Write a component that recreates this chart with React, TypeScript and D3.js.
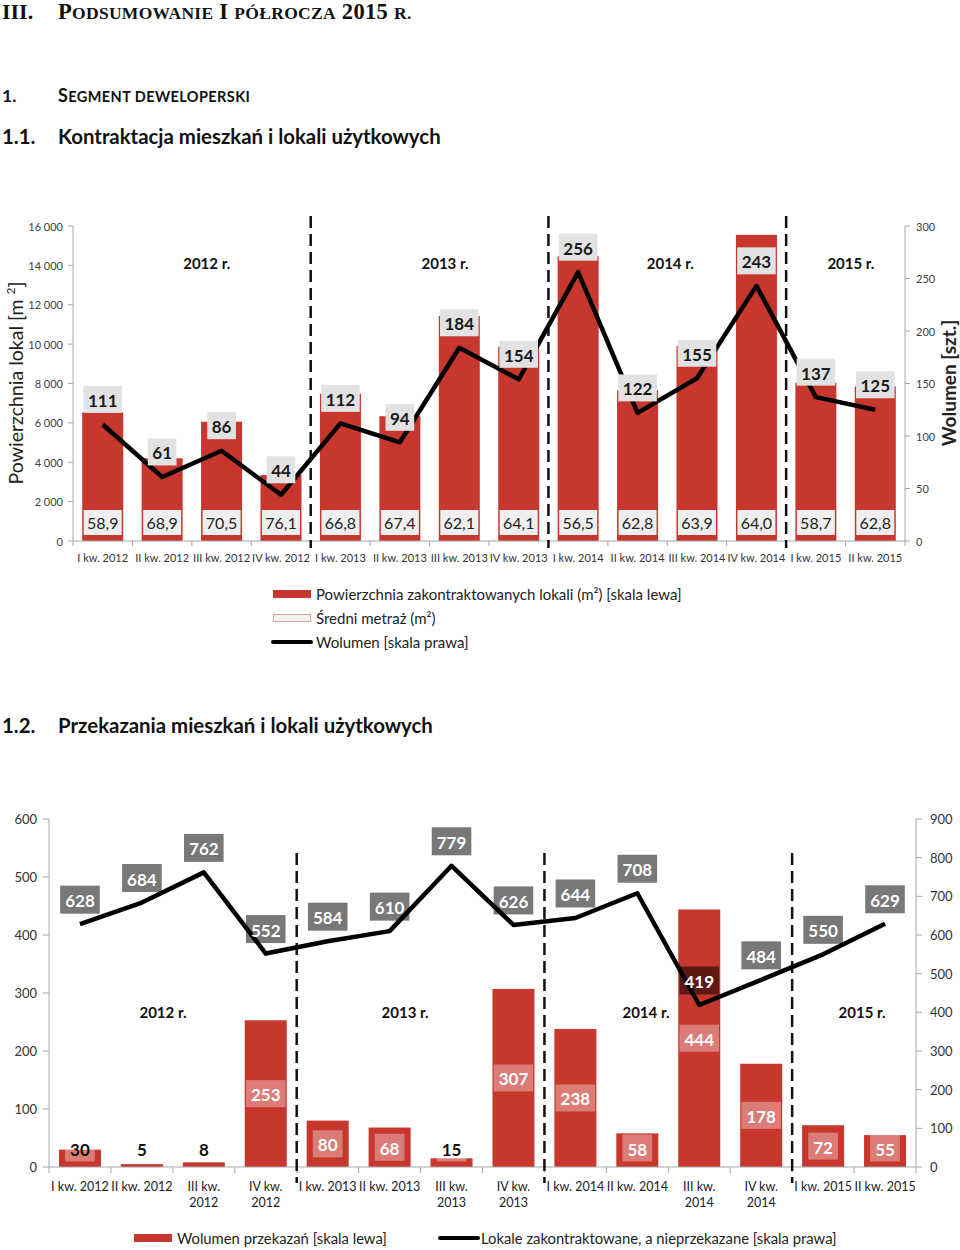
import React from 'react';
import * as d3 from 'd3';

// ---------- DATA ----------
const quarters1 = ["I kw. 2012", "II kw. 2012", "III kw. 2012", "IV kw. 2012", "I kw. 2013", "II kw. 2013", "III kw. 2013", "IV kw. 2013", "I kw. 2014", "II kw. 2014", "III kw. 2014", "IV kw. 2014", "I kw. 2015", "II kw. 2015"];
const area1 = [6540, 4200, 6060, 3350, 7480, 6340, 11430, 9870, 14460, 7660, 9900, 15550, 8040, 7850];
const avgArea1 = [58.9, 68.9, 70.5, 76.1, 66.8, 67.4, 62.1, 64.1, 56.5, 62.8, 63.9, 64.0, 58.7, 62.8];
const volume1 = [111, 61, 86, 44, 112, 94, 184, 154, 256, 122, 155, 243, 137, 125];
const leftTicks1 = [0, 2000, 4000, 6000, 8000, 10000, 12000, 14000, 16000];
const rightTicks1 = [0, 50, 100, 150, 200, 250, 300];
const years = ["2012 r.", "2013 r.", "2014 r.", "2015 r."];

const quarters2 = ["I kw. 2012", "II kw. 2012", "III kw.\n2012", "IV kw.\n2012", "I kw. 2013", "II kw. 2013", "III kw.\n2013", "IV kw.\n2013", "I kw. 2014", "II kw. 2014", "III kw.\n2014", "IV kw.\n2014", "I kw. 2015", "II kw. 2015"];
const handovers2 = [30, 5, 8, 253, 80, 68, 15, 307, 238, 58, 444, 178, 72, 55];
const unsold2 = [628, 684, 762, 552, 584, 610, 779, 626, 644, 708, 419, 484, 550, 629];
const leftTicks2 = [0, 100, 200, 300, 400, 500, 600];
const rightTicks2 = [0, 100, 200, 300, 400, 500, 600, 700, 800, 900];

// ---------- STYLE ----------
const FONT = "Lato, 'Open Sans', sans-serif";
const RED = "#c8372d";
const AXIS = "#a6a6a6";
const locale = d3.formatLocale({ decimal: ",", thousands: " ", grouping: [3], currency: ["", ""] });
const fmtThousands = locale.format(",");
const fmtDec = locale.format(".1f");

let ctx: CanvasRenderingContext2D | null = null;
function textW(s: string, font: string) {
  if (!ctx) ctx = document.createElement('canvas').getContext('2d');
  ctx!.font = font;
  return ctx!.measureText(s).width;
}

// layout: year labels as fractional band positions
const yearPos1 = [2.25, 6.26, 10.05, 13.09];
const yearPos2 = [1.84, 5.75, 9.64, 13.13];
const separators = [4, 8, 12];

function Chart1() {
  const L = 73, R = 905, T = 226, B = 541;
  const x = d3.scaleBand<string>().domain(quarters1).range([L, R]);
  const bw = x.bandwidth();
  const barW = 41;
  const yL = d3.scaleLinear().domain([0, 16000]).range([B, T]);
  const yR = d3.scaleLinear().domain([0, 300]).range([B, T]);
  const cx = (i: number) => (x(quarters1[i]) as number) + bw / 2;
  const line = d3.line<number>().x((_, i) => cx(i)).y(d => yR(d));
  const volFont = `bold 17px ${FONT}`;
  return (
    <g>
      {area1.map((v, i) => (
        <rect key={'b' + i} x={cx(i) - barW / 2} y={yL(v)} width={barW} height={B - yL(v)} fill={RED} />
      ))}
      {avgArea1.map((v, i) => (
        <g key={'a' + i}>
          <rect x={cx(i) - barW / 2 + 1.5} y={B - 31} width={barW - 3} height={25} fill="#efefef" />
          <text x={cx(i)} y={B - 18.5} textAnchor="middle" dominantBaseline="central" fontFamily={FONT} fontSize={16} fill="#222">{fmtDec(v)}</text>
        </g>
      ))}
      <line x1={L} x2={L} y1={T} y2={B} stroke={AXIS} />
      <line x1={R} x2={R} y1={T} y2={B} stroke={AXIS} />
      <line x1={L} x2={R} y1={B} y2={B} stroke={AXIS} />
      {leftTicks1.map(t => (
        <g key={'lt' + t}>
          <line x1={L - 5} x2={L} y1={yL(t)} y2={yL(t)} stroke={AXIS} />
          <text x={L - 10} y={yL(t)} textAnchor="end" dominantBaseline="central" fontFamily={FONT} fontSize={11} fill="#404040">{fmtThousands(t)}</text>
        </g>
      ))}
      {rightTicks1.map(t => (
        <g key={'rt' + t}>
          <line x1={R} x2={R + 5} y1={yR(t)} y2={yR(t)} stroke={AXIS} />
          <text x={R + 11} y={yR(t)} dominantBaseline="central" fontFamily={FONT} fontSize={11} fill="#404040">{t}</text>
        </g>
      ))}
      {quarters1.map((q, i) => (
        <g key={'xt' + i}>
          <line x1={(x(q) as number)} x2={(x(q) as number)} y1={B} y2={B + 5} stroke={AXIS} />
          <text x={cx(i)} y={B + 16} textAnchor="middle" dominantBaseline="central" fontFamily={FONT} fontSize={11} fill="#333">{q}</text>
        </g>
      ))}
      <line x1={R} x2={R} y1={B} y2={B + 5} stroke={AXIS} />
      {separators.map(s => (
        <line key={'s' + s} x1={x(quarters1[s]) as number} x2={x(quarters1[s]) as number} y1={216} y2={548} stroke="#111" strokeWidth={2.5} strokeDasharray="12 6" />
      ))}
      {years.map((y, i) => (
        <text key={'y' + i} x={L + yearPos1[i] * bw} y={263} textAnchor="middle" dominantBaseline="central" fontFamily={FONT} fontWeight="bold" fontSize={15} fill="#111">{y}</text>
      ))}
      <path d={line(volume1) as string} fill="none" stroke="#000" strokeWidth={4.5} strokeLinejoin="round" />
      {volume1.map((v, i) => {
        const w = textW(String(v), volFont) + 9;
        const cy = yR(v) - 25;
        return (
          <g key={'v' + i}>
            <rect x={cx(i) - w / 2} y={cy - 13.5} width={w} height={27} fill="#e2e2e2" />
            <text x={cx(i)} y={cy + 1} textAnchor="middle" dominantBaseline="central" fontFamily={FONT} fontWeight="bold" fontSize={17} fill="#1a1a1a">{v}</text>
          </g>
        );
      })}
      <text transform="translate(23,383) rotate(-90)" textAnchor="middle" fontFamily={FONT} fontSize={19.5} fill="#222">
        Powierzchnia lokal [m <tspan fontSize={12} dy={-8}>2</tspan><tspan dy={8}>]</tspan>
      </text>
      <text transform="translate(956,383) rotate(-90)" textAnchor="middle" fontFamily={FONT} fontWeight="bold" fontSize={19} fill="#222">Wolumen  [szt.]</text>
      <rect x={273} y={590} width={38} height={8} fill={RED} />
      <text x={316} y={594} dominantBaseline="central" fontFamily={FONT} fontSize={15} fill="#222">Powierzchnia zakontraktowanych lokali (m²) [skala lewa]</text>
      <rect x={273.5} y={614.5} width={37} height={7} fill="#f2f2f2" stroke="#d9a0a0" />
      <text x={316} y={618} dominantBaseline="central" fontFamily={FONT} fontSize={15} fill="#222">Średni metraż (m²)</text>
      <line x1={273} x2={311} y1={642} y2={642} stroke="#000" strokeWidth={4} strokeLinecap="round" />
      <text x={316} y={642} dominantBaseline="central" fontFamily={FONT} fontSize={15} fill="#222">Wolumen [skala prawa]</text>
    </g>
  );
}

function Chart2() {
  const L = 49, R = 916, T = 819, B = 1167;
  const x = d3.scaleBand<string>().domain(quarters2).range([L, R]);
  const bw = x.bandwidth();
  const barW = 42;
  const yL = d3.scaleLinear().domain([0, 600]).range([B, T]);
  const yR = d3.scaleLinear().domain([0, 900]).range([B, T]);
  const cx = (i: number) => (x(quarters2[i]) as number) + bw / 2;
  const line = d3.line<number>().x((_, i) => cx(i)).y(d => yR(d));
  const lblFont = `bold 17px ${FONT}`;
  return (
    <g>
      {handovers2.map((v, i) => (
        <rect key={'b' + i} x={cx(i) - barW / 2} y={yL(v)} width={barW} height={B - yL(v)} fill={RED} />
      ))}
      <line x1={L} x2={L} y1={T} y2={B} stroke={AXIS} />
      <line x1={R} x2={R} y1={T} y2={B} stroke={AXIS} />
      <line x1={L} x2={R} y1={B} y2={B} stroke={AXIS} />
      {leftTicks2.map(t => (
        <g key={'lt' + t}>
          <line x1={L - 6} x2={L} y1={yL(t)} y2={yL(t)} stroke={AXIS} />
          <text x={L - 12} y={yL(t)} textAnchor="end" dominantBaseline="central" fontFamily={FONT} fontSize={13} fill="#333">{t}</text>
        </g>
      ))}
      {rightTicks2.map(t => (
        <g key={'rt' + t}>
          <line x1={R} x2={R + 6} y1={yR(t)} y2={yR(t)} stroke={AXIS} />
          <text x={R + 14} y={yR(t)} dominantBaseline="central" fontFamily={FONT} fontSize={13} fill="#333">{t}</text>
        </g>
      ))}
      {quarters2.map((q, i) => (
        <g key={'xt' + i}>
          <line x1={x(q) as number} x2={x(q) as number} y1={B} y2={B + 6} stroke={AXIS} />
          {q.split("\n").map((ln, k) => (
            <text key={k} x={cx(i)} y={B + 19 + k * 16} textAnchor="middle" dominantBaseline="central" fontFamily={FONT} fontSize={12.5} fill="#222">{ln}</text>
          ))}
        </g>
      ))}
      <line x1={R} x2={R} y1={B} y2={B + 6} stroke={AXIS} />
      {separators.map(s => (
        <line key={'s' + s} x1={x(quarters2[s]) as number} x2={x(quarters2[s]) as number} y1={853} y2={1183} stroke="#111" strokeWidth={2.5} strokeDasharray="12 6" />
      ))}
      {years.map((y, i) => (
        <text key={'y' + i} x={L + yearPos2[i] * bw} y={1012} textAnchor="middle" dominantBaseline="central" fontFamily={FONT} fontWeight="bold" fontSize={15} fill="#111">{y}</text>
      ))}
      <path d={line(unsold2) as string} fill="none" stroke="#000" strokeWidth={4.5} strokeLinejoin="round" />
      {handovers2.map((v, i) => {
        const w = textW(String(v), lblFont) + 10;
        const h = B - yL(v);
        const cy = Math.min((yL(v) + B) / 2, 1148);
        const inside = h > 27;
        return (
          <g key={'bl' + i}>
            <rect x={cx(i) - w / 2} y={cy - 13.5} width={w} height={27} fill="#fff" fillOpacity={0.35} />
            <text x={cx(i)} y={cy + 1} textAnchor="middle" dominantBaseline="central" fontFamily={FONT} fontWeight="bold" fontSize={17} fill={inside ? "#fff" : "#111"}>{v}</text>
          </g>
        );
      })}
      {unsold2.map((v, i) => {
        const w = textW(String(v), lblFont) + 10;
        const cy = yR(v) - 24.5;
        return (
          <g key={'ll' + i}>
            <rect x={cx(i) - w / 2} y={cy - 14} width={w} height={28} fill="#000" fillOpacity={0.53} />
            <text x={cx(i)} y={cy + 1} textAnchor="middle" dominantBaseline="central" fontFamily={FONT} fontWeight="bold" fontSize={17} fill="#fff">{v}</text>
          </g>
        );
      })}
      <rect x={134} y={1234} width={38} height={8} fill={RED} />
      <text x={177} y={1238} dominantBaseline="central" fontFamily={FONT} fontSize={14.8} fill="#222">Wolumen przekazań [skala lewa]</text>
      <line x1={440} x2={478} y1={1238} y2={1238} stroke="#000" strokeWidth={4} strokeLinecap="round" />
      <text x={481} y={1238} dominantBaseline="central" fontFamily={FONT} fontSize={14.8} fill="#222">Lokale zakontraktowane, a nieprzekazane [skala prawa]</text>
    </g>
  );
}

function Headings() {
  const serif = "'Liberation Serif', 'DejaVu Serif', serif";
  return (
    <g fill="#111">
      <text x={2} y={19} fontFamily={serif} fontWeight="bold" fontSize={22}>III.</text>
      <text x={58} y={19} fontFamily={serif} fontWeight="bold" fontSize={22.5} letterSpacing={0.3}>
        P<tspan fontSize={17.5}>ODSUMOWANIE</tspan> I <tspan fontSize={17.5}>PÓŁROCZA</tspan> 2015 <tspan fontSize={17.5}>R.</tspan>
      </text>
      <text x={2} y={102} fontFamily={FONT} fontWeight="bold" fontSize={17.5}>1.</text>
      <text x={58} y={102} fontFamily={FONT} fontWeight="bold" fontSize={18} letterSpacing={0.4}>
        S<tspan fontSize={14.5}>EGMENT DEWELOPERSKI</tspan>
      </text>
      <text x={2} y={144} fontFamily={FONT} fontWeight="bold" fontSize={20.4}>1.1.</text>
      <text x={58} y={144} fontFamily={FONT} fontWeight="bold" fontSize={20.4}>Kontraktacja mieszkań i lokali użytkowych</text>
      <text x={2} y={733} fontFamily={FONT} fontWeight="bold" fontSize={20.4}>1.2.</text>
      <text x={58} y={733} fontFamily={FONT} fontWeight="bold" fontSize={20.4}>Przekazania mieszkań i lokali użytkowych</text>
    </g>
  );
}

export default function App() {
  return (
    <svg width={960} height={1250} style={{ position: 'absolute', left: 0, top: 0, background: '#fff' }}>
      <rect width={960} height={1250} fill="#fff" />
      <Headings />
      <Chart1 />
      <Chart2 />
    </svg>
  );
}
